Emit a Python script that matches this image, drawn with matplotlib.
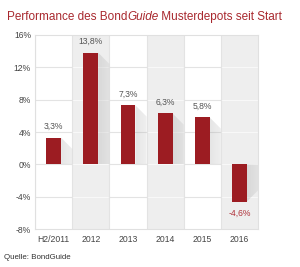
import matplotlib.pyplot as plt
import numpy as np
from matplotlib.patches import Polygon

plt.rcParams['font.family'] = ['Liberation Sans', 'DejaVu Sans']

years = ['H2/2011', '2012', '2013', '2014', '2015', '2016']
perf = [3.3, 13.8, 7.3, 6.3, 5.8, -4.6]
labels = ['3,3%', '13,8%', '7,3%', '6,3%', '5,8%', '-4,6%']
yticks = [-8, -4, 0, 4, 8, 12, 16]

red = '#9c1c22'
fig = plt.figure(figsize=(3.0, 2.67), dpi=100)
ax = fig.add_axes([0.117, 0.142, 0.743, 0.727])
ax.set_xlim(-0.5, 5.5)
ax.set_ylim(-8, 16)

# column backgrounds + grid
for i in range(len(years)):
    bg = '#ffffff' if i % 2 == 0 else '#eeeeee'
    gc = '#e3e3e3' if i % 2 == 0 else '#f8f8f8'
    ax.axvspan(i - 0.5, i + 0.5, color=bg, zorder=0, lw=0)
    for t in yticks[1:-1]:
        ax.plot([i - 0.5, i + 0.5], [t, t], color=gc, lw=0.8, zorder=1)
    ax.axvline(i - 0.5, color='#e3e3e3', lw=0.8, zorder=1)

# diagonal shadows
w = 0.4
grad = np.linspace(1, 0, 50).reshape(1, -1)
for i, v in enumerate(perf):
    xr = i + w / 2
    xc = i + 0.5
    d = (xc - xr) * 4.6
    if v > 0:
        pts = [(xr, v), (xc, v - d), (xc, 0), (xr, 0)]
        y0, y1 = 0, v
    else:
        pts = [(xr, 0), (xc, 0), (xc, v + d), (xr, v)]
        y0, y1 = v, 0
    poly = Polygon(pts, closed=True, facecolor='none', edgecolor='none')
    ax.add_patch(poly)
    im = ax.imshow(grad, extent=[xr, xc, y0, y1], aspect='auto', cmap='Greys',
                   vmin=-2.5, vmax=4, alpha=0.22, zorder=2)
    im.set_clip_path(poly)

ax.bar(range(len(years)), perf, width=w, color=red, zorder=3)

for i, v in enumerate(perf):
    if v > 0:
        ax.text(i, v + 0.8, labels[i], ha='center', va='bottom', fontsize=6.2, color='#555555')
    else:
        ax.text(i, v - 0.9, labels[i], ha='center', va='top', fontsize=6.2, color='#b0323a')

ax.set_xticks(range(len(years)))
ax.set_xticklabels(years, fontsize=6.2, color='#444444')
ax.set_yticks(yticks)
ax.set_yticklabels(['%d%%' % t for t in yticks], fontsize=6.2, color='#444444')
ax.tick_params(length=0, axis='y', pad=3)
ax.tick_params(length=0, axis='x', pad=4.5)
for s in ax.spines.values():
    s.set_color('#e0e0e0')
    s.set_linewidth(0.8)

tcol = '#a8282e'
t1 = fig.text(0.022, 0.925, 'Performance des Bond', fontsize=8.5, color=tcol, va='baseline')
t2 = plt.annotate('Guide', xy=(1, 0), xycoords=t1, fontsize=8.5, color=tcol,
                  style='italic', va='bottom', annotation_clip=False)
t3 = plt.annotate(' Musterdepots seit Start', xy=(1, 0), xycoords=t2, fontsize=8.5,
                  color=tcol, va='bottom', annotation_clip=False)

fig.text(0.013, 0.03, 'Quelle: BondGuide', fontsize=5.7, color='#333333')

fig.savefig('out.png', dpi=100)
